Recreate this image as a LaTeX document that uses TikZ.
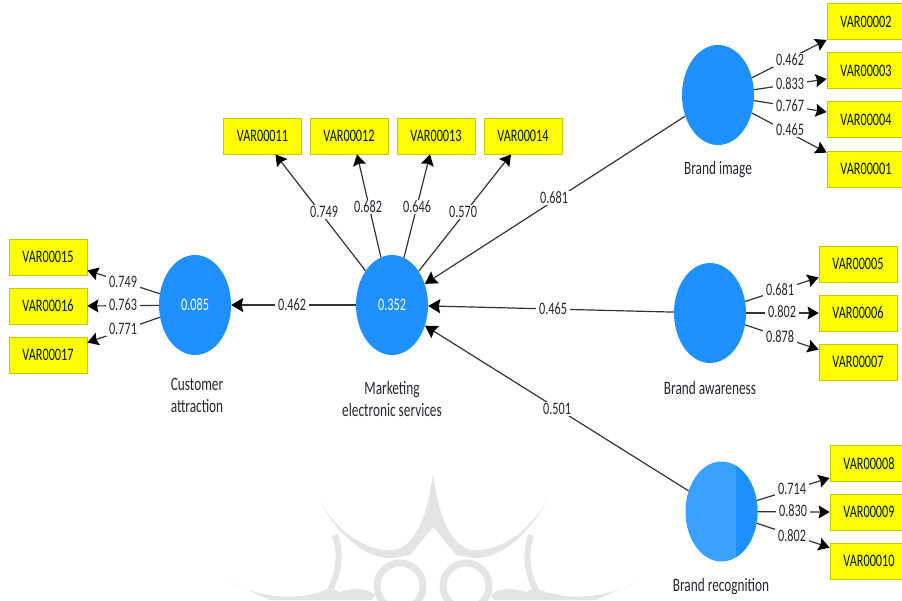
\documentclass[tikz,border=0pt]{standalone}
\usepackage{fontspec}
\setmainfont[FakeStretch=0.70]{Carlito}
\usetikzlibrary{shapes.geometric,arrows.meta}
\definecolor{lvblue}{HTML}{1E90FF}
\definecolor{lvlight}{HTML}{3BA1FF}
\definecolor{mvyellow}{HTML}{FFFF00}
\definecolor{mvedge}{HTML}{C8C800}
\definecolor{wmgray}{HTML}{E4E4E4}
\definecolor{txt}{HTML}{26262E}
\tikzset{
  x=1pt,y=-1pt,
  every node/.style={font=\fontsize{17.5}{18}\selectfont,text=txt},
  latent/.style={ellipse,fill=lvblue,minimum width=72pt,minimum height=100pt,inner sep=0pt,text=white},
  indicator/.style={rectangle,fill=mvyellow,draw=mvedge,line width=0.8pt,minimum width=78pt,minimum height=36pt,inner sep=0pt,text=black!90!green},
  outer/.style={draw=black!80,line width=1.2pt,-{Stealth[length=11pt,width=13pt,inset=1.5pt,color=black]}},
  inner/.style={draw=black!80,line width=1.2pt,-{Stealth[length=12pt,width=14pt,inset=1.5pt,color=black]}},
  weight/.style={fill=white,inner xsep=3pt,inner ysep=1pt},
  caption/.style={align=center,inner sep=0pt,font=\fontsize{19}{22}\selectfont},
}
\begin{document}
\begin{tikzpicture}
\path[clip,use as bounding box] (0,0) rectangle (902,600);
% watermark
\fill[wmgray] (320,500) .. controls (338,535) and (370,552) .. (393,550) .. controls (415,548) and (428,515) .. (433,473)
  .. controls (438,515) and (451,548) .. (473,550) .. controls (496,552) and (528,535) .. (548,498)
  .. controls (535,525) and (505,560) .. (473,558) -- (456,555) -- (433,527) -- (410,555) -- (393,558) .. controls (361,560) and (331,525) .. cycle;
\draw[wmgray,line width=6pt] (335,535) .. controls (342,555) and (338,575) .. (330,590);
\draw[wmgray,line width=6pt] (531,535) .. controls (524,555) and (528,575) .. (536,590);
\fill[wmgray] (230,582) .. controls (260,598) and (300,602) .. (330,588) -- (340,592) .. controls (345,590) and (365,585) .. (375,595) -- (372,600) -- (270,600) -- cycle;
\fill[wmgray] (636,582) .. controls (606,598) and (566,602) .. (536,588) -- (526,592) .. controls (521,590) and (501,585) .. (491,595) -- (494,600) -- (596,600) -- cycle;
\draw[wmgray,line width=7pt] (400,586) circle[radius=23];
\draw[wmgray,line width=7pt] (466,586) circle[radius=23];
% latent variables
\node[latent] (ca) at (195,305) {0.085};
\node[latent] (mes) at (392,305) {0.352};
\node[latent] (bi) at (718,95) {};
\node[latent] (ba) at (710,313) {};
\node[latent,fill=lvlight,path picture={\fill[lvblue] (14.5,-60) rectangle (50,60);}] (br) at (721.5,511.5) {};
% indicators
\node[indicator] (v2) at (866,21.5) {VAR00002};
\node[indicator] (v3) at (866,70.5) {VAR00003};
\node[indicator] (v4) at (866,119.5) {VAR00004};
\node[indicator] (v1) at (866,169) {VAR00001};
\node[indicator] (v5) at (858,264) {VAR00005};
\node[indicator] (v6) at (858,313) {VAR00006};
\node[indicator] (v7) at (858,362) {VAR00007};
\node[indicator] (v8) at (869,463.5) {VAR00008};
\node[indicator] (v9) at (869,512) {VAR00009};
\node[indicator] (v10) at (869,561) {VAR00010};
\node[indicator] (v15) at (48,257) {VAR00015};
\node[indicator] (v16) at (48,306) {VAR00016};
\node[indicator] (v17) at (48,355) {VAR00017};
\node[indicator] (v11) at (262.5,136) {VAR00011};
\node[indicator] (v12) at (349,136) {VAR00012};
\node[indicator] (v13) at (436,136) {VAR00013};
\node[indicator] (v14) at (523,136) {VAR00014};
% connectors
\draw[inner] (bi) -- (mes);
\draw[inner] (ba) -- (mes);
\draw[inner] (br) -- (mes);
\draw[inner] (mes) -- (ca);
\draw[outer] (bi) -- ([yshift=0pt]v2.south west);
\draw[outer] (bi) -- ([yshift=-8.5pt]v3.west);
\draw[outer] (bi) -- ([yshift=7.5pt]v4.west);
\draw[outer] (bi) -- ([yshift=-2pt]v1.north west);
\draw[outer] (ba) -- ([yshift=5pt]v5.south west);
\draw[outer] (ba) -- (v6.west);
\draw[outer] (ba) -- ([yshift=-6pt]v7.north west);
\draw[outer] (br) -- ([yshift=4pt]v8.south west);
\draw[outer] (br) -- (v9.west);
\draw[outer] (br) -- ([yshift=-5pt]v10.north west);
\draw[outer] (ca) -- ([yshift=5pt]v15.south east);
\draw[outer] (ca) -- (v16.east);
\draw[outer] (ca) -- ([yshift=-6pt]v17.north east);
\draw[outer] (mes) -- ([xshift=13pt]v11.south);
\draw[outer] (mes) -- ([xshift=8pt]v12.south);
\draw[outer] (mes) -- ([xshift=-6pt]v13.south);
\draw[outer] (mes) -- ([xshift=-12pt]v14.south);
% coefficients
\node[weight] (l1) at (554,198) {0.681};
\node[weight] (l2) at (553,309) {0.465};
\node[weight] (l3) at (557,409) {0.501};
\node[weight] (l4) at (292,305) {0.462};
\node[weight] (l5) at (790,60) {0.462};
\node[weight] (l6) at (790,84) {0.833};
\node[weight] (l7) at (790,106) {0.767};
\node[weight] (l8) at (790,130) {0.465};
\node[weight] (l9) at (780,290) {0.681};
\node[weight] (l10) at (782,312) {0.802};
\node[weight] (l11) at (780,337) {0.878};
\node[weight] (l12) at (792,489) {0.714};
\node[weight] (l13) at (793,511) {0.830};
\node[weight] (l14) at (792,536) {0.802};
\node[weight] (l15) at (123,282) {0.749};
\node[weight] (l16) at (123,305) {0.763};
\node[weight] (l17) at (123,329) {0.771};
\node[weight] (l18) at (324,212) {0.749};
\node[weight] (l19) at (368,207) {0.682};
\node[weight] (l20) at (417,207) {0.646};
\node[weight] (l21) at (463,212) {0.570};
% captions
\node[caption] (c1) at (718,170) {Brand image};
\node[caption] (c2) at (710,388) {Brand awareness};
\node[caption] (c3) at (721,587) {Brand recognition};
\node[caption] (c4) at (197,395) {Customer\\attraction};
\node[caption] (c5) at (392,399) {Marketing\\electronic services};
\end{tikzpicture}
\end{document}
